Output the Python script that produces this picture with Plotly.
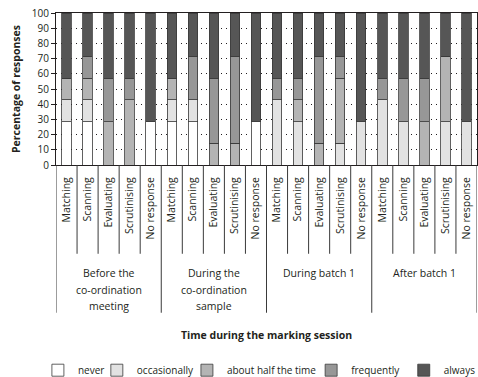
import plotly.graph_objects as go

# ---------------- data ----------------
groups = ["Before the<br>co-ordination<br>meeting",
          "During the<br>co-ordination<br>sample",
          "During batch 1",
          "After batch 1"]
categories = ["Matching", "Scanning", "Evaluating", "Scrutinising", "No response"]
levels = ["never", "occasionally", "about half the time", "frequently", "always"]

# percentage of responses per bar (4 groups x 5 categories)
never = [28.6, 28.6, 0, 0, 28.6,
         28.6, 28.6, 0, 0, 28.6,
         0, 0, 0, 0, 0,
         0, 0, 0, 0, 0]
occasionally = [14.3, 14.3, 0, 0, 0,
                14.3, 14.3, 0, 0, 0,
                42.9, 28.6, 0, 14.3, 28.6,
                42.9, 28.6, 0, 28.6, 28.6]
about_half = [14.3, 14.3, 28.6, 42.9, 0,
              14.3, 0, 14.3, 14.3, 0,
              0, 14.3, 14.3, 42.9, 0,
              0, 0, 28.6, 42.9, 0]
frequently = [0, 14.3, 28.6, 14.3, 0,
              0, 28.6, 42.9, 57.1, 0,
              14.3, 14.3, 57.1, 14.3, 0,
              14.3, 28.6, 28.6, 0, 0]
always = [42.8, 28.5, 42.8, 42.8, 71.4,
          42.8, 28.5, 42.8, 28.6, 71.4,
          42.8, 42.8, 28.6, 28.5, 71.4,
          42.8, 42.8, 42.8, 28.5, 71.4]
series = [never, occasionally, about_half, frequently, always]

y_ticks = list(range(0, 101, 10))

# ---------------- style ----------------
colors = ["#ffffff", "#e2e2e2", "#b4b4b4", "#979797", "#565656"]
FONT = "Open Sans"
TXT = "#231f20"
legend_x = [-0.043, 0.097, 0.311, 0.606, 0.826]

n_groups = len(groups)
n_cats = len(categories)
xpos = list(range(n_groups * n_cats))
ticktext = categories * n_groups

fig = go.Figure()
for k, (name, vals) in enumerate(zip(levels, series)):
    fig.add_trace(go.Bar(
        x=xpos, y=vals, name=name, width=0.45,
        marker=dict(color=colors[k], line=dict(color="#3a3a3a", width=0.8)),
        legend="legend" if k == 0 else f"legend{k + 1}",
        hoverinfo="skip",
    ))

layout = dict(
    width=478, height=377,
    margin=dict(l=56, r=1, t=13, b=212, autoexpand=False),
    barmode="stack",
    plot_bgcolor="white", paper_bgcolor="white",
    font=dict(family=FONT, size=10, color=TXT),
    xaxis=dict(
        range=[-0.5, len(xpos) - 0.5],
        tickmode="array", tickvals=xpos, ticktext=ticktext,
        tickangle=-90, ticks="", ticklabelstandoff=7,
        tickfont=dict(size=10.5, family=FONT, color=TXT),
        showgrid=False, zeroline=False,
        showline=True, linecolor="#231f20", linewidth=1, mirror=True,
    ),
    yaxis=dict(
        range=[0, 100],
        tickmode="array", tickvals=y_ticks,
        ticks="outside", ticklen=4, tickcolor="#231f20",
        tickfont=dict(size=10, family=FONT, color=TXT),
        showgrid=True, gridcolor="#231f20", gridwidth=1, griddash="1px,4px",
        zeroline=False,
        showline=True, linecolor="#231f20", linewidth=1, mirror=True,
        title=dict(text="<b>Percentage of responses</b>",
                   font=dict(size=10.5, family=FONT, color=TXT), standoff=9),
    ),
    showlegend=True,
)
for k in range(len(levels)):
    key = "legend" if k == 0 else f"legend{k + 1}"
    layout[key] = dict(
        x=legend_x[k], y=-1.35, xanchor="left", yanchor="middle",
        orientation="h", itemwidth=30, bgcolor="rgba(0,0,0,0)",
        font=dict(size=10, family=FONT, color=TXT),
    )
fig.update_layout(**layout)

# separators below the axis
shapes = []
for i in range(len(xpos) + 1):
    boundary = (i % n_cats == 0)
    shapes.append(dict(
        type="line", xref="x", yref="paper",
        x0=i - 0.5, x1=i - 0.5, y0=0, y1=-0.972 if boundary else -0.584,
        line=dict(color="#3a3a3a", width=1),
    ))
fig.update_layout(shapes=shapes)

# group labels
for g, label in enumerate(groups):
    center = g * n_cats + (n_cats - 1) / 2
    for j, line in enumerate(label.split("<br>")):
        fig.add_annotation(
            x=center, xref="x", y=-0.713 - j * 0.108, yref="paper",
            text=line, showarrow=False, yanchor="middle",
            font=dict(size=10.5, family=FONT, color=TXT),
        )

fig.add_annotation(
    x=0.501, xref="paper", y=-1.116, yref="paper",
    text="<b>Time during the marking session</b>", showarrow=False,
    yanchor="middle", font=dict(size=10.5, family=FONT, color=TXT),
)

fig.write_html("out.html",
               config={"displayModeBar": False},
               post_script="document.body.style.margin='0';document.body.style.padding='0';")
